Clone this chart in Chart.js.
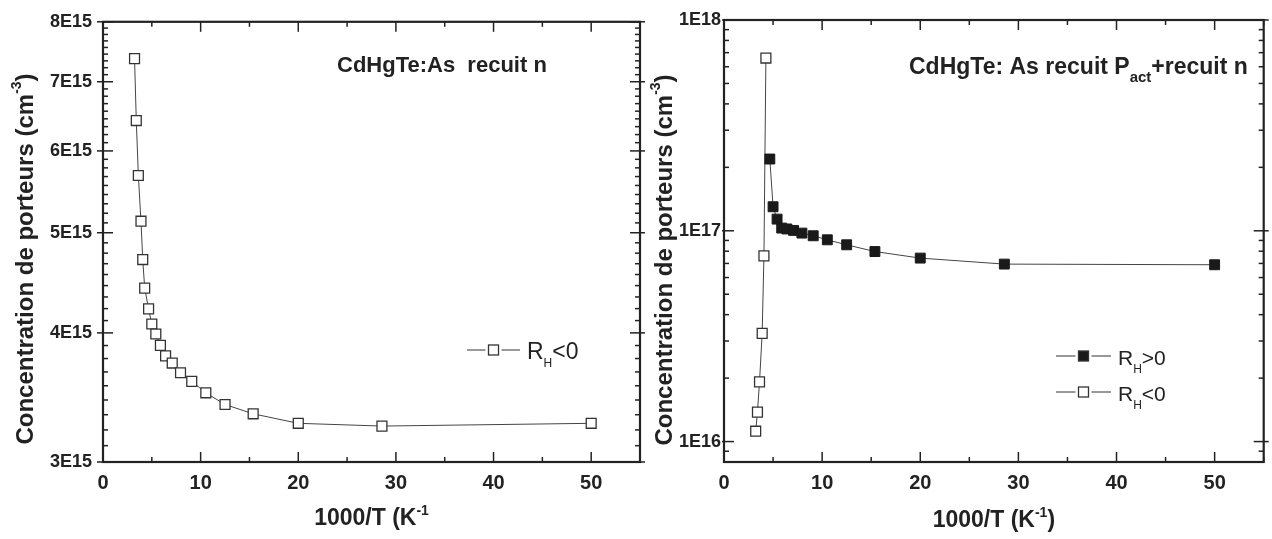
<!DOCTYPE html>
<html>
<head>
<meta charset="utf-8">
<script src="https://cdn.jsdelivr.net/npm/chart.js@4.4.0/dist/chart.umd.min.js"></script>
<style>
  html, body { margin: 0; padding: 0; background: #fff; }
  #wrap { position: relative; width: 1272px; height: 539px; overflow: hidden; }
  canvas { position: absolute; top: 0; }
  #leftChart { left: 0; }
  #rightChart { left: 636px; }
</style>
</head>
<body>
<div id="wrap">
  <canvas id="leftChart" width="660" height="539"></canvas>
  <canvas id="rightChart" width="636" height="539"></canvas>
</div>
<script>
// --- data ---
const invT = [3.23, 3.41, 3.62, 3.89, 4.07, 4.27, 4.67, 5.0, 5.41, 5.88, 6.41, 7.09, 7.94, 9.09, 10.53, 12.5, 15.38, 20.0, 28.57, 50.0];

// left panel: recuit n, R_H<0
const nLeft = [7.37e15, 6.42e15, 5.68e15, 5.13e15, 4.71e15, 4.42e15, 4.22e15, 4.08e15, 3.99e15, 3.89e15,
               3.80e15, 3.74e15, 3.66e15, 3.59e15, 3.50e15, 3.41e15, 3.34e15, 3.27e15, 3.25e15, 3.27e15];

// right panel: recuit P_act + recuit n
const invTNeg = invT.slice(0, 6);
const nRightNeg = [1.12e16, 1.38e16, 1.92e16, 3.26e16, 7.6e16, 6.6e17];
const invTPos = invT.slice(6);
const nRightPos = [2.19e17, 1.30e17, 1.136e17, 1.03e17, 1.02e17, 1.004e17, 0.975e17, 0.947e17,
                   0.906e17, 0.858e17, 0.797e17, 0.742e17, 0.695e17, 0.69e17];

// axes
const xTicks = [0, 10, 20, 30, 40, 50];
const xMinorTicks = [5, 15, 25, 35, 45, 55];
const leftYTicks = [3e15, 4e15, 5e15, 6e15, 7e15, 8e15];
const leftYLabels = ['3E15', '4E15', '5E15', '6E15', '7E15', '8E15'];
const rightYTicks = [1e16, 1e17, 1e18];
const rightYLabels = ['1E16', '1E17', '1E18'];

const FONT = '"Liberation Sans", Arial, sans-serif';
const INK = '#222';

function fontStr(p) { return (p.weight || 'normal') + ' ' + p.size + 'px ' + FONT; }

// draws text made of pieces (for sub/superscripts)
function drawRich(ctx, parts, x, y, align) {
    let w = 0;
    parts.forEach(p => { ctx.font = fontStr(p); p.w = ctx.measureText(p.text).width; w += p.w; });
    let cx = align === 'center' ? x - w / 2 : x;
    ctx.textAlign = 'left';
    ctx.textBaseline = 'alphabetic';
    ctx.fillStyle = INK;
    parts.forEach(p => { ctx.font = fontStr(p); ctx.fillText(p.text, cx, y + (p.dy || 0)); cx += p.w; });
}

function line(ctx, x1, y1, x2, y2) {
    ctx.beginPath(); ctx.moveTo(x1, y1); ctx.lineTo(x2, y2); ctx.stroke();
}

// minor tick values for the two kinds of log axes
function linearMinors(majors) {
    const out = [];
    for (let i = 0; i < majors.length - 1; i++) {
        const step = (majors[i + 1] - majors[i]) / 9;
        for (let k = 1; k < 9; k++) out.push(majors[i] + k * step);
    }
    return out;
}
function decadeMinors(min, max) {
    const out = [];
    for (let d = 1e15; d < max; d *= 10) {
        for (let k = 2; k < 10; k++) { const v = k * d; if (v > min && v < max) out.push(v); }
    }
    return out;
}

function makeDecor(cfg) {
    return {
        id: 'decor',
        afterDraw(chart) {
            const ctx = chart.ctx;
            const { left, right, top, bottom } = chart.chartArea;
            const xs = chart.scales.x, ys = chart.scales.y;
            ctx.save();
            ctx.strokeStyle = INK;
            ctx.lineWidth = 1.5;
            xTicks.forEach(v => {
                const px = xs.getPixelForValue(v);
                line(ctx, px, bottom, px, bottom - 10);
                line(ctx, px, top, px, top + 10);
            });
            xMinorTicks.forEach(v => {
                const px = xs.getPixelForValue(v);
                line(ctx, px, bottom, px, bottom - 5);
                line(ctx, px, top, px, top + 5);
            });
            cfg.yTicks.forEach(v => {
                const py = ys.getPixelForValue(v);
                line(ctx, left - cfg.outTick, py, left + 10, py);
                line(ctx, right + 5, py, right - 10, py);
            });
            cfg.yMinor.forEach(v => {
                const py = ys.getPixelForValue(v);
                line(ctx, left, py, left + 5, py);
                line(ctx, right, py, right - 5, py);
            });
            ctx.lineWidth = 2.2;
            ctx.strokeRect(left, top, right - left, bottom - top);

            // axis titles
            drawRich(ctx, cfg.xTitle, (left + right) / 2, cfg.xTitleY, 'center');
            ctx.save();
            ctx.translate(cfg.yTitleX, cfg.yTitleCY);
            ctx.rotate(-Math.PI / 2);
            drawRich(ctx, cfg.yTitle, 0, 0, 'center');
            ctx.restore();

            // annotation
            drawRich(ctx, cfg.note, cfg.noteX, cfg.noteY, 'left');

            // legend: line - marker - line, then label
            cfg.legend.forEach(item => {
                const s = 10, mx = (item.x1 + item.x2) / 2;
                ctx.strokeStyle = '#333';
                ctx.lineWidth = 1;
                line(ctx, item.x1, item.y, mx - s / 2 - 3, item.y);
                line(ctx, mx + s / 2 + 3, item.y, item.x2, item.y);
                ctx.fillStyle = item.filled ? '#1a1a1a' : '#fff';
                ctx.fillRect(mx - s / 2, item.y - s / 2, s, s);
                ctx.lineWidth = 1.3;
                ctx.strokeRect(mx - s / 2, item.y - s / 2, s, s);
                drawRich(ctx, item.text, item.x2 + 7, item.y + 9, 'left');
            });
            ctx.restore();
        }
    };
}

function scalesFor(yMin, yMax, yTicks, yLabels, yWidth, yPad) {
    return {
        x: {
            type: 'linear', min: 0, max: 55,
            afterBuildTicks: s => { s.ticks = xTicks.map(v => ({ value: v })); },
            afterFit: s => { s.height = 77; },
            grid: { display: false, drawTicks: false },
            border: { display: false },
            ticks: { autoSkip: false, maxRotation: 0, padding: 9, color: INK,
                     font: { family: FONT, size: 20, weight: 'bold' } }
        },
        y: {
            type: 'logarithmic', min: yMin, max: yMax,
            afterBuildTicks: s => { s.ticks = yTicks.map(v => ({ value: v })); },
            afterFit: s => { s.width = yWidth; },
            grid: { display: false, drawTicks: false },
            border: { display: false },
            ticks: { autoSkip: false, padding: yPad, color: INK,
                     font: { family: FONT, size: 18, weight: 'bold' },
                     callback: (v, i) => yLabels[i] }
        }
    };
}

function pts(xsArr, ysArr) { return xsArr.map((x, i) => ({ x: x, y: ysArr[i] })); }

const openStyle = {
    borderColor: '#444', borderWidth: 1, tension: 0, fill: false,
    pointStyle: 'rect', pointRadius: 7, pointHoverRadius: 7,
    pointBackgroundColor: '#fff', pointBorderColor: '#333', pointBorderWidth: 1.3
};
const filledStyle = {
    borderColor: '#444', borderWidth: 1, tension: 0, fill: false,
    pointStyle: 'rect', pointRadius: 7, pointHoverRadius: 7,
    pointBackgroundColor: '#1a1a1a', pointBorderColor: '#1a1a1a', pointBorderWidth: 1
};

const commonOpts = {
    responsive: false, animation: false, devicePixelRatio: 1,
    plugins: { legend: { display: false }, tooltip: { enabled: false } }
};

// --- left chart ---
new Chart(document.getElementById('leftChart'), {
    type: 'line',
    data: { datasets: [Object.assign({ label: 'RH<0', data: pts(invT, nLeft) }, openStyle)] },
    options: Object.assign({}, commonOpts, {
        layout: { padding: { left: 0, right: 20, top: 20, bottom: 0 } },
        scales: scalesFor(3e15, 8e15, leftYTicks, leftYLabels, 103, 11)
    }),
    plugins: [makeDecor({
        yTicks: leftYTicks,
        yMinor: linearMinors(leftYTicks),
        outTick: 6,
        xTitle: [{ text: '1000/T (K', size: 23, weight: 'bold' }, { text: '-1', size: 14, weight: 'bold', dy: -10 }],
        xTitleY: 525,
        yTitle: [{ text: 'Concentration de porteurs (cm', size: 24, weight: 'bold' },
                 { text: '-3', size: 14, weight: 'bold', dy: -12 },
                 { text: ')', size: 24, weight: 'bold' }],
        yTitleX: 33, yTitleCY: 259,
        note: [{ text: 'CdHgTe:As  recuit n', size: 22, weight: 'bold' }],
        noteX: 337, noteY: 72,
        legend: [{ x1: 467, x2: 520, y: 350, filled: false,
                   text: [{ text: 'R', size: 23 }, { text: 'H', size: 12, dy: 8 }, { text: '<0', size: 23 }] }]
    })]
});

// --- right chart ---
new Chart(document.getElementById('rightChart'), {
    type: 'line',
    data: { datasets: [
        Object.assign({ label: 'RH>0', data: pts(invTPos, nRightPos) }, filledStyle),
        Object.assign({ label: 'RH<0', data: pts(invTNeg, nRightNeg) }, openStyle)
    ] },
    options: Object.assign({}, commonOpts, {
        layout: { padding: { left: 0, right: 1, top: 20, bottom: 0 } },
        scales: scalesFor(8e15, 1e18, rightYTicks, rightYLabels, 88, 3)
    }),
    plugins: [makeDecor({
        yTicks: rightYTicks,
        yMinor: decadeMinors(8e15, 1e18),
        outTick: 2,
        xTitle: [{ text: '1000/T (K', size: 23, weight: 'bold' }, { text: '-1', size: 14, weight: 'bold', dy: -10 },
                 { text: ')', size: 23, weight: 'bold' }],
        xTitleY: 527,
        yTitle: [{ text: 'Concentration de porteurs (cm', size: 24, weight: 'bold' },
                 { text: '-3', size: 14, weight: 'bold', dy: -12 },
                 { text: ')', size: 24, weight: 'bold' }],
        yTitleX: 36, yTitleCY: 260,
        note: [{ text: 'CdHgTe: As recuit P', size: 23, weight: 'bold' },
               { text: 'act', size: 15, weight: 'bold', dy: 8 },
               { text: '+recuit n', size: 23, weight: 'bold' }],
        noteX: 273, noteY: 74,
        legend: [
            { x1: 420, x2: 475, y: 356, filled: true,
              text: [{ text: 'R', size: 21 }, { text: 'H', size: 12, dy: 8 }, { text: '>0', size: 21 }] },
            { x1: 420, x2: 475, y: 392, filled: false,
              text: [{ text: 'R', size: 21 }, { text: 'H', size: 12, dy: 8 }, { text: '<0', size: 21 }] }
        ]
    })]
});
</script>
</body>
</html>
